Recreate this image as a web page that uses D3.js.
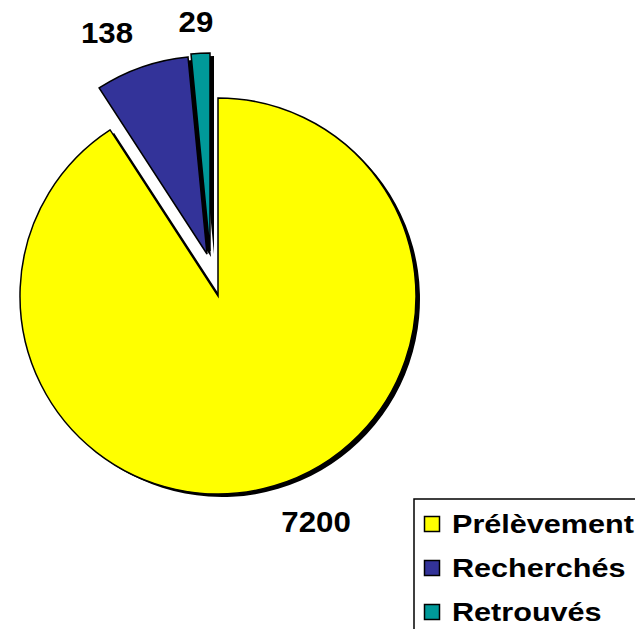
<!DOCTYPE html>
<html>
<head>
<meta charset="utf-8">
<script src="https://cdn.jsdelivr.net/npm/d3@7"></script>
<style>
  html, body { margin: 0; padding: 0; background: #fff; }
  svg { display: block; font-family: "Liberation Sans", Arial, sans-serif; font-weight: bold; }
</style>
</head>
<body>
<svg class="vis-principal" width="635" height="629"></svg>
<script>
// données
const categories = ["Prélèvement", "Recherchés", "Retrouvés"];
const effectifs = [7200, 138, 29];          // valeurs affichées
const parts = [90.83, 7.64, 1.53];          // part de chaque secteur telle que dessinée (%)
const couleurs = ["#ffff00", "#333399", "#009999"];

const svg = d3.select("svg.vis-principal");

const centre = { x: 218, y: 296 };
const rayon = 198;
// décalage des secteurs détachés
const decalage = [[0, 0], [-11, -42], [-8, -45]];
const ombre = { dx: 4, dy: 3 };

const donnees = categories.map((c, i) => ({ categorie: c, effectif: effectifs[i], part: parts[i], i: i }));

const pie = d3.pie()
    .sort(null)
    .value(d => d.part);

const arc = d3.arc()
    .innerRadius(0)
    .outerRadius(rayon);

const secteurs = pie(donnees);

const g = svg.append("g")
    .attr("transform", "translate(" + centre.x + "," + centre.y + ")");

// ombres d'abord
g.selectAll("path.ombre")
  .data(secteurs)
  .enter()
  .append("path")
    .attr("class", "ombre")
    .attr("d", arc)
    .attr("transform", d => "translate(" + (decalage[d.data.i][0] + ombre.dx) + "," + (decalage[d.data.i][1] + ombre.dy) + ")")
    .attr("fill", "#000");

g.selectAll("path.secteur")
  .data(secteurs)
  .enter()
  .append("path")
    .attr("class", "secteur")
    .attr("d", arc)
    .attr("transform", d => "translate(" + decalage[d.data.i][0] + "," + decalage[d.data.i][1] + ")")
    .attr("fill", d => couleurs[d.data.i])
    .attr("stroke", "#000")
    .attr("stroke-width", 1.5)
    .attr("stroke-linejoin", "miter");

// étiquettes des valeurs (texte un peu élargi, comme dans l'original)
const pos_etiquettes = [[316, 532], [107, 43], [196, 32]];

svg.selectAll("text.valeur")
  .data(donnees)
  .enter()
  .append("text")
    .attr("class", "valeur")
    .attr("transform", d => "translate(" + pos_etiquettes[d.i][0] + "," + pos_etiquettes[d.i][1] + ") scale(1.06,1)")
    .attr("text-anchor", "middle")
    .attr("font-size", 29.5)
    .text(d => d.effectif);

// légende
const legende = svg.append("g").attr("transform", "translate(414,499)");

legende.append("rect")
    .attr("x", 0)
    .attr("y", 0)
    .attr("width", 240)
    .attr("height", 160)
    .attr("fill", "#fff")
    .attr("stroke", "#000")
    .attr("stroke-width", 1.5);

const ligne = d3.scalePoint()
    .domain(categories)
    .range([25, 113]);

const item = legende.selectAll("g.item")
  .data(donnees)
  .enter()
  .append("g")
    .attr("class", "item")
    .attr("transform", d => "translate(0," + ligne(d.categorie) + ")");

item.append("rect")
    .attr("x", 10.5)
    .attr("y", -7.5)
    .attr("width", 15)
    .attr("height", 15)
    .attr("fill", d => couleurs[d.i])
    .attr("stroke", "#000")
    .attr("stroke-width", 1.5);

item.append("text")
    .attr("transform", "translate(38,9) scale(1.2,1)")
    .attr("font-size", 25.5)
    .text(d => d.categorie);
</script>
</body>
</html>
